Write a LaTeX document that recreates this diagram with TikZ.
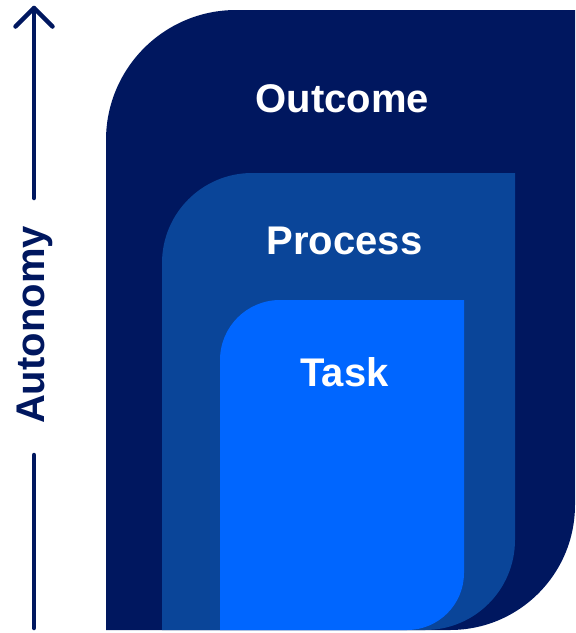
\documentclass[tikz,border=0pt]{standalone}
\usepackage{fontspec}
\setmainfont{Liberation Sans}
\definecolor{navy}{HTML}{00175F}
\definecolor{midblue}{HTML}{0A4599}
\definecolor{brightblue}{HTML}{0066FF}
\begin{document}
\begin{tikzpicture}[x=1pt,y=-1pt,
  layer/.style={draw=none},
  tier/.style={text=white,font=\fontsize{40}{48}\selectfont\bfseries,anchor=base,inner sep=0pt},
  axisline/.style={draw=navy,line width=4.5pt,line cap=round,line join=round}]
\useasboundingbox (0,0) rectangle (576,633);

% nested scopes, outermost first (y axis points down, so angles run clockwise)
\fill[navy,layer] (106,630) -- (106,140) arc[start angle=180,end angle=270,radius=130]
  -- (575,10) -- (575,505) arc[start angle=0,end angle=90,radius=125] -- cycle;
\fill[midblue,layer] (162,630) -- (162,263) arc[start angle=180,end angle=270,radius=90]
  -- (515,173) -- (515,540) arc[start angle=0,end angle=90,radius=90] -- cycle;
\fill[brightblue,layer] (220,630) -- (220,360) arc[start angle=180,end angle=270,radius=60]
  -- (464,300) -- (464,573) arc[start angle=0,end angle=90,radius=57] -- cycle;

\node[tier] (outcome) at (342.5,112) {Outcome};
\node[tier] (process) at (344.5,254) {Process};
\node[tier] (task) at (344.5,386) {Task};

% autonomy axis
\node[text=navy,font=\fontsize{40}{48}\selectfont\bfseries,rotate=90,anchor=base,inner sep=0pt]
  (autonomy) at (45,325) {Autonomy};
\coordinate (base) at (34,628);
\coordinate (belowlabel) at (34,455);
\coordinate (abovelabel) at (34,198);
\coordinate (tip) at (34,8);
\coordinate (armL) at (15.5,26.5);
\coordinate (armR) at (52.5,26.5);
\draw[axisline] (base) -- (belowlabel);
\draw[axisline] (abovelabel) -- (tip);
\draw[axisline] (armL) -- (tip) -- (armR);
\end{tikzpicture}
\end{document}
